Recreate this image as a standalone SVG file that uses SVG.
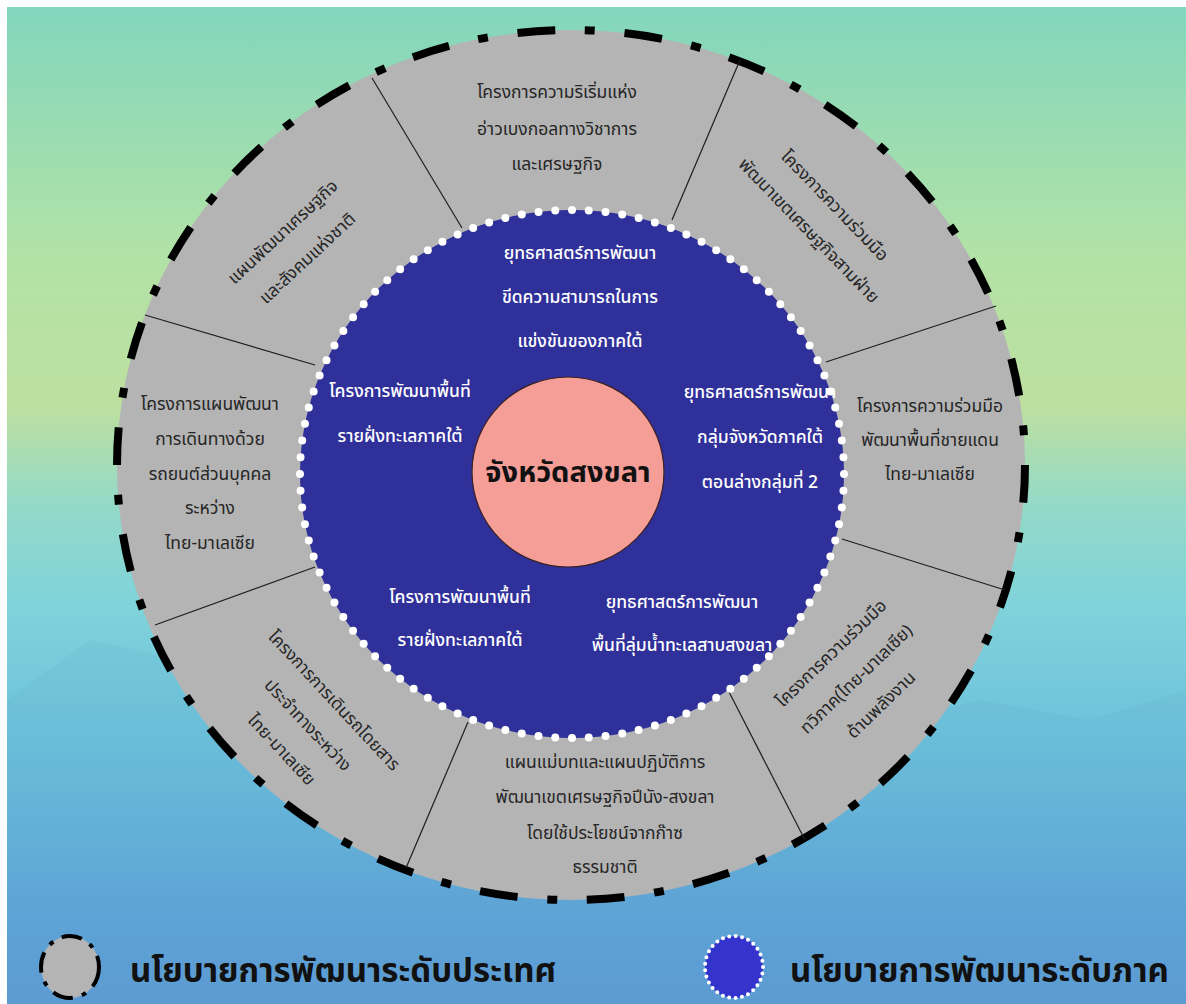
<svg xmlns="http://www.w3.org/2000/svg" width="1186" height="1004" viewBox="0 0 1186 1004">
<defs>
<linearGradient id="bg" x1="0" y1="0" x2="0" y2="1">
<stop offset="0" stop-color="#82d6bd"/>
<stop offset="0.25" stop-color="#b2e2a6"/>
<stop offset="0.4" stop-color="#bde0a0"/>
<stop offset="0.5" stop-color="#94d9c8"/>
<stop offset="0.6" stop-color="#7fd3da"/>
<stop offset="0.75" stop-color="#6bbfdc"/>
<stop offset="0.9" stop-color="#5fa6d8"/>
<stop offset="1" stop-color="#5d9bd4"/>
</linearGradient>
<style>
.t{font-family:'Noto Sans Thai','Noto Sans','DejaVu Sans',sans-serif;text-anchor:middle}
.g{font-size:17.5px;fill:#262626}
.w{font-size:17.5px;fill:#ffffff;font-weight:500}
.lg{font-size:33px;font-weight:bold;fill:#111;text-anchor:start}
.div{stroke:#1e1e1e;stroke-width:1.2}
</style>
</defs>
<rect x="0" y="0" width="1186" height="1004" fill="#ffffff"/>
<rect x="7" y="7" width="1179" height="997" fill="url(#bg)"/>
<path d="M7 700 L90 640 L180 660 L260 700 L340 690 L420 730 L520 760 L620 740 L740 770 L860 730 L980 700 L1090 720 L1186 690 L1186 1004 L7 1004 Z" fill="#5aa0c8" opacity="0.1"/>

<g id="outer-ring">
<ellipse cx="571" cy="465" rx="454" ry="435" fill="#b4b4b4"/>
<ellipse cx="571" cy="465" rx="454" ry="435" fill="none" stroke="#000" stroke-width="8" pathLength="2808" stroke-dasharray="38 30 10 30"/>
</g>

<g id="dividers">
<line class="div" x1="372" y1="78" x2="462" y2="228"/>
<line class="div" x1="740" y1="60" x2="672" y2="220"/>
<line class="div" x1="996" y1="306" x2="826" y2="362"/>
<line class="div" x1="1005" y1="590" x2="842" y2="539"/>
<line class="div" x1="805" y1="840" x2="727" y2="688"/>
<line class="div" x1="406" y1="868" x2="468" y2="722"/>
<line class="div" x1="155" y1="625" x2="315" y2="567"/>
<line class="div" x1="145" y1="315" x2="315" y2="365"/>
</g>

<g id="inner-ring">
<ellipse cx="572" cy="474" rx="272" ry="264" fill="#30309a"/>
<ellipse cx="572" cy="474" rx="272" ry="264" fill="none" stroke="#fff" stroke-width="8" stroke-linecap="round" pathLength="1700" stroke-dasharray="0 17"/>
</g>

<g id="center">
<ellipse cx="568" cy="472" rx="96" ry="95" fill="#f59d97" stroke="#3a2020" stroke-width="1.2"/>
<text class="t" x="568" y="482" font-size="29" font-weight="bold" fill="#111">จังหวัดสงขลา</text>
</g>

<g id="seg-top">
<text class="t g" x="557" y="98">โครงการความริเริ่มแห่ง</text>
<text class="t g" x="557" y="135">อ่าวเบงกอลทางวิชาการ</text>
<text class="t g" x="557" y="170">และเศรษฐกิจ</text>
</g>
<g id="seg-topright">
<g transform="translate(822,218) rotate(46)">
<text class="t g" x="0" y="-12">โครงการความร่วมมือ</text>
<text class="t g" x="0" y="24">พัฒนาเขตเศรษฐกิจสามฝ่าย</text>
</g>
</g>
<g id="seg-right">
<text class="t g" x="930" y="412">โครงการความร่วมมือ</text>
<text class="t g" x="930" y="446">พัฒนาพื้นที่ชายแดน</text>
<text class="t g" x="930" y="480">ไทย-มาเลเซีย</text>
</g>
<g id="seg-bottomright">
<g transform="translate(856,679) rotate(-44)">
<text class="t g" x="0" y="-30">โครงการความร่วมมือ</text>
<text class="t g" x="0" y="6">ทวิภาค(ไทย-มาเลเซีย)</text>
<text class="t g" x="0" y="42">ด้านพลังงาน</text>
</g>
</g>
<g id="seg-bottom">
<text class="t g" x="605" y="768">แผนแม่บทและแผนปฏิบัติการ</text>
<text class="t g" x="605" y="803">พัฒนาเขตเศรษฐกิจปีนัง-สงขลา</text>
<text class="t g" x="605" y="839">โดยใช้ประโยชน์จากก๊าซ</text>
<text class="t g" x="605" y="873">ธรรมชาติ</text>
</g>
<g id="seg-bottomleft">
<g transform="translate(308,725) rotate(47)">
<text class="t g" x="0" y="-30">โครงการการเดินรถโดยสาร</text>
<text class="t g" x="0" y="6">ประจำทางระหว่าง</text>
<text class="t g" x="0" y="42">ไทย-มาเลเซีย</text>
</g>
</g>
<g id="seg-left">
<text class="t g" x="210" y="410">โครงการแผนพัฒนา</text>
<text class="t g" x="210" y="445">การเดินทางด้วย</text>
<text class="t g" x="210" y="480">รถยนต์ส่วนบุคคล</text>
<text class="t g" x="210" y="514">ระหว่าง</text>
<text class="t g" x="210" y="549">ไทย-มาเลเซีย</text>
</g>
<g id="seg-topleft">
<g transform="translate(295,245) rotate(-43)">
<text class="t g" x="0" y="-12">แผนพัฒนาเศรษฐกิจ</text>
<text class="t g" x="0" y="24">และสังคมแห่งชาติ</text>
</g>
</g>

<g id="reg-top">
<text class="t w" x="580" y="259">ยุทธศาสตร์การพัฒนา</text>
<text class="t w" x="580" y="303">ขีดความสามารถในการ</text>
<text class="t w" x="580" y="347">แข่งขันของภาคใต้</text>
</g>
<g id="reg-left">
<text class="t w" x="400" y="397">โครงการพัฒนาพื้นที่</text>
<text class="t w" x="400" y="442">รายฝั่งทะเลภาคใต้</text>
</g>
<g id="reg-right">
<text class="t w" x="760" y="398">ยุทธศาสตร์การพัฒนา</text>
<text class="t w" x="760" y="443">กลุ่มจังหวัดภาคใต้</text>
<text class="t w" x="760" y="488">ตอนล่างกลุ่มที่ 2</text>
</g>
<g id="reg-bottomleft">
<text class="t w" x="460" y="603">โครงการพัฒนาพื้นที่</text>
<text class="t w" x="460" y="646">รายฝั่งทะเลภาคใต้</text>
</g>
<g id="reg-bottomright">
<text class="t w" x="682" y="608">ยุทธศาสตร์การพัฒนา</text>
<text class="t w" x="682" y="651">พื้นที่ลุ่มน้ำทะเลสาบสงขลา</text>
</g>

<g id="legend-national">
<ellipse cx="70" cy="967" rx="29" ry="31" fill="#b4b4b4" stroke="#000" stroke-width="4" pathLength="200" stroke-dasharray="22 10 5 10"/>
<text class="t lg" x="130" y="982">นโยบายการพัฒนาระดับประเทศ</text>
</g>
<g id="legend-regional">
<ellipse cx="734" cy="967" rx="29" ry="31" fill="#3434cc" stroke="#fff" stroke-width="4" stroke-linecap="round" pathLength="200" stroke-dasharray="0 6.9"/>
<text class="t lg" x="790" y="982">นโยบายการพัฒนาระดับภาค</text>
</g>
</svg>
